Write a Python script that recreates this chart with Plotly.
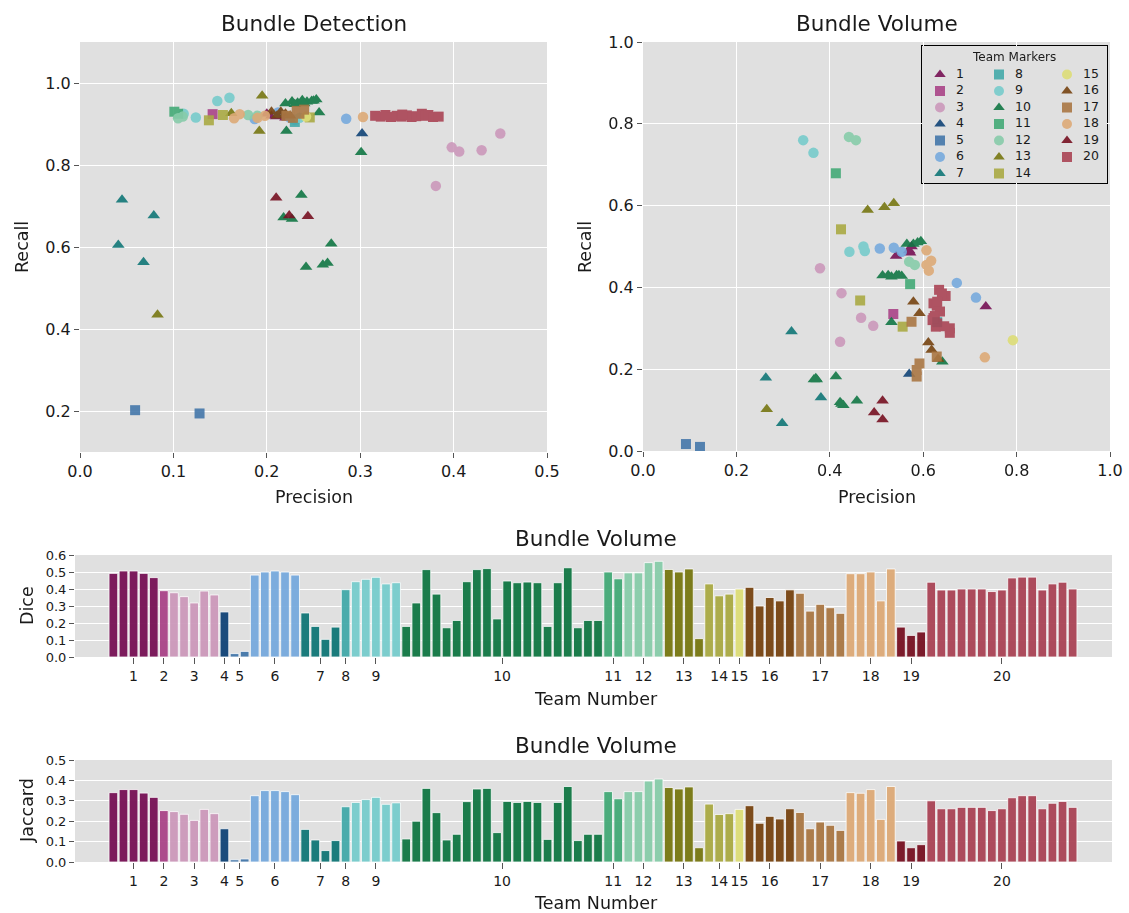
import plotly.graph_objects as go

# ---------------- data ----------------
teams = list(range(1, 21))
team_colors = ["#771155", "#AA4488", "#CC99BB", "#114477", "#4477AA", "#77AADD",
               "#117777", "#44AAAA", "#77CCCC", "#117744", "#44AA77", "#88CCAA",
               "#777711", "#AAAA44", "#DDDD77", "#774411", "#AA7744", "#DDAA77",
               "#771122", "#AA4455"]
marker_shapes = ["triangle-up", "square", "circle"]

dice_by_team = [
    [0.492, 0.506, 0.506, 0.492, 0.467],
    [0.390],
    [0.378, 0.355, 0.318, 0.388, 0.365],
    [0.265],
    [0.020, 0.033],
    [0.482, 0.500, 0.506, 0.500, 0.482],
    [0.259, 0.180, 0.104, 0.176],
    [0.396],
    [0.443, 0.457, 0.469, 0.430, 0.437],
    [0.180, 0.318, 0.514, 0.370, 0.172, 0.215, 0.443, 0.514, 0.520, 0.224,
     0.447, 0.437, 0.441, 0.437, 0.180, 0.437, 0.525, 0.172, 0.215, 0.215],
    [0.500, 0.460],
    [0.495, 0.495, 0.555, 0.563],
    [0.515, 0.500, 0.518, 0.108],
    [0.430, 0.360, 0.370],
    [0.400],
    [0.410, 0.300, 0.350, 0.330, 0.395],
    [0.375, 0.270, 0.310, 0.290, 0.257],
    [0.490, 0.490, 0.500, 0.330, 0.518],
    [0.176, 0.127, 0.147],
    [0.440, 0.394, 0.394, 0.400, 0.400, 0.400, 0.385, 0.394, 0.465, 0.470,
     0.470, 0.394, 0.430, 0.440, 0.400],
]

jaccard_by_team = [
    [0.340, 0.355, 0.355, 0.338, 0.317],
    [0.252],
    [0.247, 0.234, 0.204, 0.258, 0.237],
    [0.163],
    [0.011, 0.015],
    [0.325, 0.350, 0.350, 0.345, 0.330],
    [0.160, 0.108, 0.056, 0.105],
    [0.271],
    [0.292, 0.306, 0.317, 0.283, 0.290],
    [0.113, 0.200, 0.361, 0.242, 0.108, 0.136, 0.296, 0.358, 0.361, 0.144,
     0.297, 0.292, 0.297, 0.292, 0.111, 0.292, 0.370, 0.105, 0.136, 0.136],
    [0.345, 0.310],
    [0.345, 0.345, 0.397, 0.407],
    [0.365, 0.358, 0.368, 0.070],
    [0.284, 0.233, 0.237],
    [0.258],
    [0.276, 0.190, 0.224, 0.211, 0.261],
    [0.243, 0.163, 0.196, 0.180, 0.155],
    [0.340, 0.337, 0.355, 0.209, 0.370],
    [0.103, 0.070, 0.085],
    [0.300, 0.261, 0.261, 0.268, 0.268, 0.268, 0.252, 0.261, 0.315, 0.325,
     0.325, 0.261, 0.288, 0.297, 0.268],
]

det_precision = [
    [0.200, 0.205, 0.210, 0.215, 0.220],
    [0.142],
    [0.381, 0.398, 0.406, 0.430, 0.450],
    [0.302],
    [0.059, 0.128],
    [0.187, 0.212, 0.285, 0.225, 0.230],
    [0.045, 0.079, 0.041, 0.068],
    [0.230],
    [0.111, 0.124, 0.147, 0.160, 0.235],
    [0.220, 0.227, 0.233, 0.238, 0.243, 0.248, 0.253, 0.230, 0.240, 0.250,
     0.256, 0.221, 0.301, 0.237, 0.218, 0.227, 0.269, 0.242, 0.260, 0.265],
    [0.101, 0.105],
    [0.105, 0.180, 0.110, 0.190],
    [0.162, 0.195, 0.192, 0.083],
    [0.138, 0.153, 0.246],
    [0.242],
    [0.211, 0.220, 0.215, 0.225, 0.205],
    [0.232, 0.221, 0.228, 0.235, 0.240],
    [0.165, 0.171, 0.198, 0.303, 0.190],
    [0.210, 0.224, 0.244],
    [0.316, 0.322, 0.327, 0.333, 0.339, 0.344, 0.350, 0.355, 0.360, 0.366,
     0.370, 0.373, 0.378, 0.384, 0.345],
]
det_recall = [
    [0.925, 0.920, 0.918, 0.920, 0.915],
    [0.924],
    [0.749, 0.843, 0.833, 0.836, 0.877],
    [0.877],
    [0.202, 0.194],
    [0.912, 0.928, 0.913, 0.915, 0.910],
    [0.715, 0.677, 0.605, 0.563],
    [0.905],
    [0.925, 0.916, 0.956, 0.964, 0.915],
    [0.950, 0.955, 0.952, 0.958, 0.954, 0.956, 0.960, 0.948, 0.950, 0.957,
     0.928, 0.883, 0.831, 0.727, 0.672, 0.668, 0.608, 0.551, 0.557, 0.561],
    [0.930, 0.925],
    [0.914, 0.922, 0.918, 0.920],
    [0.926, 0.969, 0.883, 0.435],
    [0.909, 0.922, 0.916],
    [0.918],
    [0.920, 0.925, 0.930, 0.920, 0.930],
    [0.932, 0.920, 0.915, 0.925, 0.935],
    [0.914, 0.924, 0.920, 0.917, 0.915],
    [0.720, 0.677, 0.675],
    [0.920, 0.918, 0.922, 0.917, 0.920, 0.918, 0.921, 0.917, 0.919, 0.925,
     0.920, 0.922, 0.917, 0.918, 0.923],
]

vol_precision = [
    [0.542, 0.572, 0.734, 0.570, 0.575],
    [0.536],
    [0.379, 0.425, 0.467, 0.493, 0.422],
    [0.570],
    [0.092, 0.122],
    [0.507, 0.537, 0.554, 0.672, 0.713],
    [0.318, 0.263, 0.381, 0.298],
    [0.630],
    [0.343, 0.365, 0.442, 0.472, 0.475],
    [0.565, 0.579, 0.595, 0.588, 0.513, 0.532, 0.543, 0.554, 0.548, 0.525,
     0.532, 0.641, 0.366, 0.372, 0.413, 0.422, 0.429, 0.458, 0.370, 0.425],
    [0.413, 0.572],
    [0.441, 0.456, 0.570, 0.582],
    [0.481, 0.517, 0.537, 0.265],
    [0.424, 0.465, 0.556],
    [0.792],
    [0.579, 0.592, 0.611, 0.618, 0.632],
    [0.575, 0.629, 0.592, 0.586, 0.586],
    [0.607, 0.617, 0.607, 0.612, 0.732],
    [0.513, 0.495, 0.513],
    [0.634, 0.648, 0.622, 0.629, 0.636, 0.620, 0.630, 0.627, 0.657, 0.657,
     0.625, 0.640, 0.630, 0.622, 0.645],
]
vol_recall = [
    [0.477, 0.485, 0.353, 0.490, 0.500],
    [0.335],
    [0.447, 0.386, 0.326, 0.306, 0.267],
    [0.188],
    [0.017, 0.010],
    [0.495, 0.497, 0.487, 0.411, 0.375],
    [0.292, 0.179, 0.131, 0.068],
    [0.315],
    [0.760, 0.729, 0.487, 0.500, 0.489],
    [0.506, 0.506, 0.513, 0.510, 0.429, 0.426, 0.430, 0.428, 0.430, 0.430,
     0.315, 0.218, 0.175, 0.175, 0.182, 0.119, 0.112, 0.123, 0.178, 0.115],
    [0.679, 0.408],
    [0.768, 0.760, 0.463, 0.455],
    [0.589, 0.596, 0.606, 0.102],
    [0.542, 0.368, 0.304],
    [0.271],
    [0.365, 0.337, 0.265, 0.247, 0.225],
    [0.316, 0.231, 0.214, 0.198, 0.182],
    [0.491, 0.465, 0.455, 0.441, 0.229],
    [0.123, 0.094, 0.077],
    [0.394, 0.379, 0.361, 0.355, 0.341, 0.320, 0.312, 0.304, 0.300, 0.289,
     0.330, 0.385, 0.365, 0.325, 0.305],
]

# ---------------- figure ----------------
W, H = 1129, 913
FONT = "DejaVu Sans"
BG = "#e0e0e0"
TXT = "#1a1a1a"


def fx(p):
    return p / W


def fy(p):
    return 1 - p / H


fig = go.Figure()

sym_size = {"triangle-up": 11, "square": 10, "circle": 10.5}

for i, t in enumerate(teams):
    sym = marker_shapes[i % 3]
    mk = dict(symbol=sym, size=sym_size[sym], color=team_colors[i], line=dict(width=0))
    fig.add_trace(go.Scatter(x=det_precision[i], y=det_recall[i], mode="markers",
                             marker=mk, opacity=0.9, xaxis="x", yaxis="y",
                             showlegend=False, name=str(t)))
    fig.add_trace(go.Scatter(x=vol_precision[i], y=vol_recall[i], mode="markers",
                             marker=mk, opacity=0.9, xaxis="x2", yaxis="y2",
                             showlegend=False, name=str(t)))

# bars: sequential submission index
tick_pos = []
start = 0
for i, t in enumerate(teams):
    n = len(dice_by_team[i])
    xs = list(range(start, start + n))
    tick_pos.append(start + (n - 1) / 2)
    for vals, xa, ya in ((dice_by_team[i], "x3", "y3"), (jaccard_by_team[i], "x4", "y4")):
        fig.add_trace(go.Bar(x=xs, y=vals, width=0.86, xaxis=xa, yaxis=ya,
                             marker=dict(color=team_colors[i], line=dict(color="white", width=0.8)),
                             opacity=0.95, showlegend=False, name=str(t)))
    start += n
n_total = start

# legend drawn in its own small axes (3 columns x 7 rows)
leg_x, leg_y, leg_sym, leg_txt_x = [], [], [], []
col_marker = [18, 77, 145]
for i, t in enumerate(teams):
    col, row = i // 7, i % 7
    leg_x.append(col_marker[col])
    leg_txt_x.append(col_marker[col] + 16)
    leg_y.append(28.5 + row * 16.5)
    leg_sym.append(marker_shapes[i % 3])
fig.add_trace(go.Scatter(x=leg_x, y=leg_y, mode="markers", xaxis="x5", yaxis="y5",
                         marker=dict(symbol=leg_sym, size=10, color=team_colors, line=dict(width=0)),
                         opacity=0.9, showlegend=False, hoverinfo="skip"))
fig.add_trace(go.Scatter(x=leg_txt_x, y=leg_y, mode="text", xaxis="x5", yaxis="y5",
                         text=[str(t) for t in teams], textposition="middle right",
                         textfont=dict(family=FONT, size=12.5, color=TXT),
                         showlegend=False, hoverinfo="skip"))

common_axis = dict(showgrid=True, gridcolor="white", gridwidth=1.3, zeroline=False,
                   ticks="outside", ticklen=5, tickcolor="#555", tickwidth=1,
                   showline=False, automargin=False,
                   tickfont=dict(family=FONT, size=16, color=TXT))

layout = dict(
    width=W, height=H, margin=dict(l=0, r=0, t=0, b=0),
    paper_bgcolor="white", plot_bgcolor=BG,
    font=dict(family=FONT, color=TXT),
    barmode="overlay", showlegend=False,
    xaxis=dict(domain=[fx(80), fx(547)], range=[0, 0.5], tickvals=[0, 0.1, 0.2, 0.3, 0.4, 0.5],
               tickformat=".1f", anchor="y", **common_axis),
    yaxis=dict(domain=[fy(452), fy(42)], range=[0.1, 1.1], tickvals=[0.2, 0.4, 0.6, 0.8, 1.0],
               tickformat=".1f", anchor="x", **common_axis),
    xaxis2=dict(domain=[fx(643), fx(1110)], range=[0, 1], tickvals=[0, 0.2, 0.4, 0.6, 0.8, 1.0],
                tickformat=".1f", anchor="y2", **common_axis),
    yaxis2=dict(domain=[fy(451), fy(42)], range=[0, 1], tickvals=[0, 0.2, 0.4, 0.6, 0.8, 1.0],
                tickformat=".1f", anchor="x2", **common_axis),
)

bar_x = dict(range=[-3.8, n_total + 2.9], tickvals=tick_pos, ticktext=[str(t) for t in teams],
             showgrid=False, zeroline=False, ticks="outside", ticklen=6, tickcolor="#555",
             automargin=False, tickfont=dict(family=FONT, size=14, color=TXT))
bar_y = dict(showgrid=True, gridcolor="white", gridwidth=1.3, zeroline=False, ticks="outside",
             ticklen=5, tickcolor="#555", automargin=False, tickformat=".1f", dtick=0.1,
             tickfont=dict(family=FONT, size=13, color=TXT))
layout["xaxis3"] = dict(domain=[fx(75), fx(1112)], anchor="y3", **bar_x)
layout["yaxis3"] = dict(domain=[fy(657), fy(555)], range=[0, 0.6], anchor="x3", **bar_y)
layout["xaxis4"] = dict(domain=[fx(75), fx(1112)], anchor="y4", **bar_x)
layout["yaxis4"] = dict(domain=[fy(862), fy(760)], range=[0, 0.5], anchor="x4", **bar_y)
layout["xaxis5"] = dict(domain=[fx(922), fx(1107)], range=[0, 185], visible=False, anchor="y5",
                        fixedrange=True)
layout["yaxis5"] = dict(domain=[fy(183), fy(46)], range=[137, 0], visible=False, anchor="x5",
                        fixedrange=True)

fig.update_layout(**layout)

# legend box
fig.add_shape(type="rect", xref="x5 domain", yref="y5 domain", x0=0, x1=1, y0=0, y1=1,
              fillcolor="white", line=dict(color="black", width=2), layer="below")

ann = []


def add_text(txt, x, y, size, angle=0):
    ann.append(dict(text=txt, x=x, y=y, xref="paper", yref="paper", showarrow=False,
                    xanchor="center", yanchor="middle", textangle=angle,
                    font=dict(family=FONT, size=size, color=TXT)))


add_text("Bundle Detection", fx(314), fy(23), 21.5)
add_text("Bundle Volume", fx(877), fy(23), 21.5)
add_text("Precision", fx(314), fy(497), 17.5)
add_text("Precision", fx(877), fy(497), 17.5)
add_text("Recall", fx(22), fy(247), 17.5, -90)
add_text("Recall", fx(585), fy(247), 17.5, -90)
add_text("Bundle Volume", fx(596), fy(538), 21.5)
add_text("Dice", fx(27), fy(606), 17.5, -90)
add_text("Team Number", fx(596), fy(699), 17.5)
add_text("Bundle Volume", fx(596), fy(745), 21.5)
add_text("Jaccard", fx(27), fy(811), 17.5, -90)
add_text("Team Number", fx(596), fy(903), 17.5)
add_text("Team Markers", fx(1014), fy(57), 12)
fig.update_layout(annotations=ann)

fig.write_html("out.html")
